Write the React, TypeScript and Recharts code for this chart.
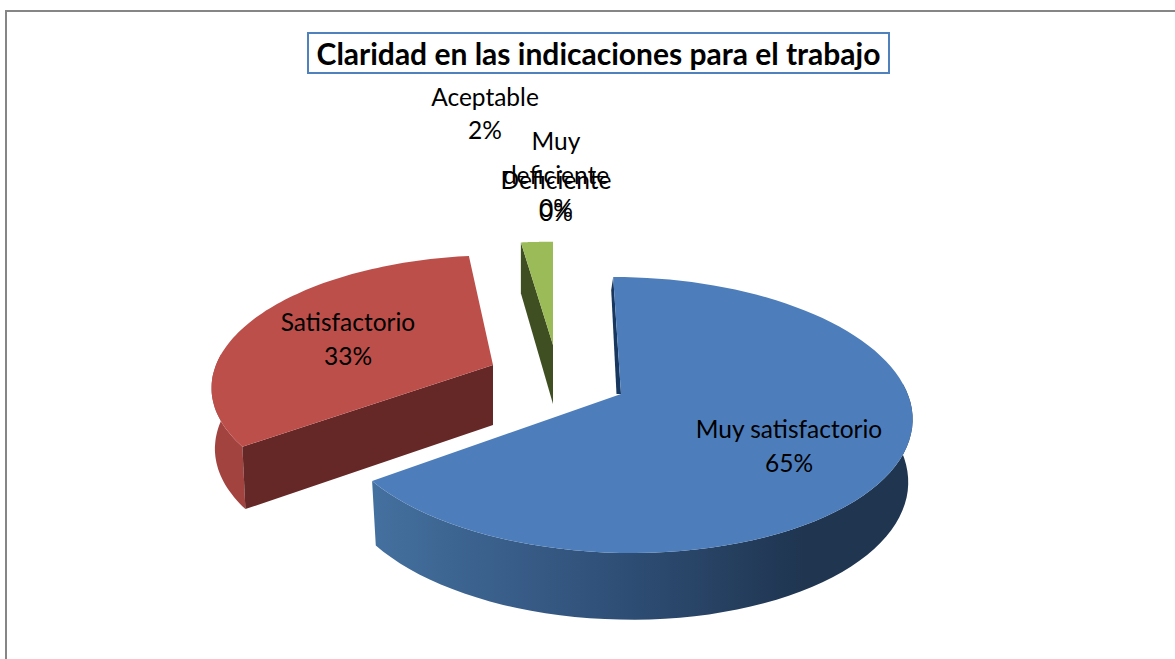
// 3D exploded pie drawn through a custom Recharts sector shape
import { Cell, Pie, PieChart } from "recharts";

const categories = ["Muy satisfactorio", "Satisfactorio", "Aceptable", "Deficiente", "Muy deficiente"];
const shares = [65, 33, 2, 0, 0];
const colors = ["#4d7ebb", "#bd4f4b", "#9bbb59", "#8064a2", "#4bacc6"];
const title = "Claridad en las indicaciones para el trabajo";

const data = categories.map((name, i) => ({ name, value: shares[i] }));

const W = 1175;
const H = 659;
const FONT = "Lato, 'Open Sans', sans-serif";
const PERSP = 0.152;

type Look = {
  dx: number; dy: number; ax: number; by: number; skew: number; depth: number; bottomX: number; bottomY: number;
  wall: string; cut?: string; sliver?: string;
};

// explode offset + projection of each slice
const looks: Record<string, Look> = {
  "Muy satisfactorio": { dx: 0, dy: 0, ax: 1.006, by: 0.473, skew: -9, depth: 62, bottomX: 0.985, bottomY: 1.03, wall: "url(#blueWall)", sliver: "#17375e" },
  Satisfactorio: { dx: -128, dy: -29, ax: 0.972, by: 0.444, skew: 7, depth: 60, bottomX: 0.988, bottomY: 1.03, wall: "#a34340", cut: "#652826" },
  Aceptable: { dx: -68, dy: -49, ax: 1.035, by: 0.4175, skew: 0, depth: 59, bottomX: 1, bottomY: 1.08, wall: "#5f7436", cut: "#3f4f21" },
};

const labelPos: Record<string, { x: number; lines: [string, number][] }> = {
  "Muy satisfactorio": { x: 789, lines: [["Muy satisfactorio", 438]] },
  Satisfactorio: { x: 348, lines: [["Satisfactorio", 331]] },
  Aceptable: { x: 485, lines: [["Aceptable", 106]] },
  Deficiente: { x: 556, lines: [["Deficiente", 189]] },
  "Muy deficiente": { x: 556, lines: [["Muy", 150], ["deficiente", 184]] },
};
const pctBaseline: Record<string, number> = {
  "Muy satisfactorio": 472,
  Satisfactorio: 365,
  Aceptable: 139,
  Deficiente: 221,
  "Muy deficiente": 217,
};

const poly = (pts: number[][]) => pts.map((p, i) => `${i ? "L" : "M"}${p[0].toFixed(1)} ${p[1].toFixed(1)}`).join(" ") + " Z";

function Slice(props: any) {
  const { cx, cy, outerRadius, startAngle, endAngle, name, fill } = props;
  const look = looks[name];
  if (!look || startAngle === endAngle) return <g />;
  const ox = cx + look.dx;
  const oy = cy + look.dy;
  const A = outerRadius * look.ax;
  const B = outerRadius * look.by;
  const rim = (deg: number) => {
    const u = Math.cos((deg * Math.PI) / 180);
    const v = Math.sin((deg * Math.PI) / 180);
    const w = 1 + PERSP * v;
    return [(A * u + look.skew * v) / w, (-B * v) / w];
  };
  const top = (p: number[]) => [ox + p[0], oy + p[1]];
  const low = (p: number[]) => [ox + p[0] * look.bottomX, oy + look.depth + p[1] * look.bottomY];

  const n = 90;
  const angles: number[] = [];
  for (let i = 0; i <= n; i++) angles.push(startAngle + ((endAngle - startAngle) * i) / n);
  const rimPts = angles.map(rim);
  const front = angles.filter((a) => Math.sin((a * Math.PI) / 180) < 0.1).map(rim);
  const first = rim(startAngle);

  return (
    <g>
      {front.length > 1 && <path d={poly([...front.map(top), ...front.map(low).reverse()])} fill={look.wall} />}
      {look.cut && <path d={poly([top([0, 0]), top(first), low(first), low([0, 0])])} fill={look.cut} />}
      {look.sliver && <path d={poly([top([0, 0]), top(first), [ox + first[0] - 2, oy + first[1] + 13], [ox - 4.5, oy]])} fill={look.sliver} />}
      <path d={poly([top([0, 0]), ...rimPts.map(top)])} fill={fill} />
    </g>
  );
}

function SliceLabel(props: any) {
  const { name, percent } = props;
  const pos = labelPos[name];
  if (!pos) return null;
  return (
    <text textAnchor="middle" fontFamily={FONT} fontSize={24.5} fill="#000">
      {pos.lines.map(([t, y]) => (
        <tspan key={t} x={pos.x} y={y}>{t}</tspan>
      ))}
      <tspan x={pos.x} y={pctBaseline[name]}>{`${Math.round(percent * 100)}%`}</tspan>
    </text>
  );
}

export default function App() {
  return (
    <div style={{ position: "absolute", left: 0, top: 0, width: W, height: H, overflow: "hidden", background: "#fff" }}>
      <div style={{ position: "absolute", left: 5, top: 10, width: W, height: H, borderLeft: "2px solid #868686", borderTop: "2px solid #868686" }} />
      <PieChart width={W} height={H} style={{ position: "absolute", left: 0, top: 0 }} margin={{ top: 0, right: 0, bottom: 0, left: 0 }}>
        <defs>
          <linearGradient id="blueWall" x1="0" y1="0" x2="1" y2="0">
            <stop offset="0%" stopColor="#44709f" />
            <stop offset="45%" stopColor="#2f4f77" />
            <stop offset="80%" stopColor="#1f3550" />
            <stop offset="100%" stopColor="#1f3550" />
          </linearGradient>
        </defs>
        <Pie
          data={data}
          dataKey="value"
          nameKey="name"
          cx={621}
          cy={394}
          innerRadius={0}
          outerRadius={285}
          startAngle={90}
          endAngle={-270}
          stroke="none"
          isAnimationActive={false}
          labelLine={false}
          label={SliceLabel}
          shape={Slice}
        >
          {data.map((d, i) => (
            <Cell key={d.name} fill={colors[i]} />
          ))}
        </Pie>
      </PieChart>
      <div
        style={{
          position: "absolute", left: 307, top: 32, width: 579, height: 38, border: "2px solid #4f81bd", background: "#fff",
          fontFamily: FONT, fontWeight: 700, fontSize: 30, lineHeight: "38px", textAlign: "center", color: "#000", whiteSpace: "nowrap",
        }}
      >
        {title}
      </div>
    </div>
  );
}
